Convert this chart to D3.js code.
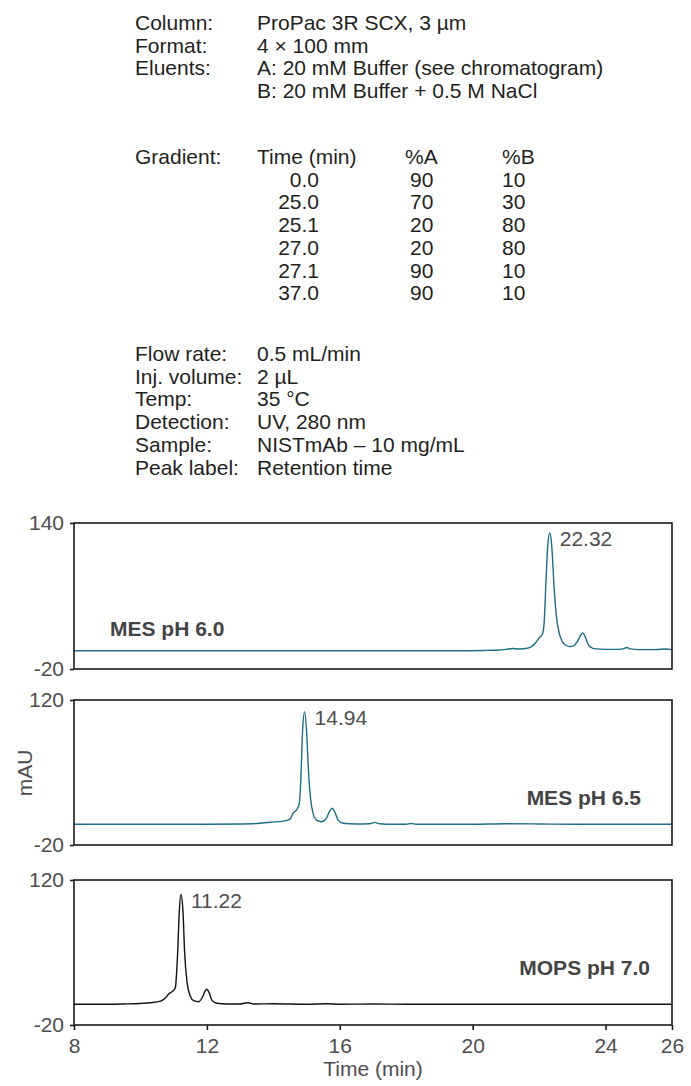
<!DOCTYPE html>
<html><head><meta charset="utf-8">
<script src="https://cdn.jsdelivr.net/npm/d3@7"></script>
<style>body{margin:0;background:#fff}svg{display:block}</style>
</head><body>
<svg id="chart" width="691" height="1086"></svg>
<script>
// ---- Method conditions ----
const conditionLabels = ["Column:", "Format:", "Eluents:", ""];
const conditionValues = ["ProPac 3R SCX, 3 µm", "4 × 100 mm", "A: 20 mM Buffer (see chromatogram)", "B: 20 mM Buffer + 0.5 M NaCl"];
const gradientHeader = ["Time (min)", "%A", "%B"];
const gradientTime = ["0.0", "25.0", "25.1", "27.0", "27.1", "37.0"];
const gradientA = ["90", "70", "20", "20", "90", "90"];
const gradientB = ["10", "30", "80", "80", "10", "10"];
const runLabels = ["Flow rate:", "Inj. volume:", "Temp:", "Detection:", "Sample:", "Peak label:"];
const runValues = ["0.5 mL/min", "2 µL", "35 °C", "UV, 280 nm", "NISTmAb – 10 mg/mL", "Retention time"];

// ---- Chromatograms: [time (min), absorbance (mAU)] ----
const xTicks = [8, 12, 16, 20, 24, 26];
const bufferNames = ["MES pH 6.0", "MES pH 6.5", "MOPS pH 7.0"];
const yDomains = [[-20, 140], [-20, 120], [-20, 120]];
const retentionTimes = ["22.32", "14.94", "11.22"];

const mesPh60 = [
  [8.0, 0], [10, 0], [12, 0], [14, 0], [16, 0], [18, 0], [19.5, 0], [20.3, 0.3], [20.8, 0.8],
  [21.0, 1.5], [21.2, 2.5], [21.4, 2.0], [21.6, 2.5], [21.75, 4], [21.9, 9], [22.0, 14], [22.1, 18],
  [22.15, 30], [22.2, 70], [22.26, 115], [22.32, 129], [22.38, 115], [22.45, 70], [22.52, 38],
  [22.6, 20], [22.7, 10], [22.8, 6], [22.93, 4.5], [23.05, 5.5], [23.15, 10], [23.25, 17],
  [23.31, 19.5], [23.38, 16], [23.45, 9], [23.55, 4], [23.7, 2], [24.0, 1.5], [24.4, 1.5],
  [24.55, 2.5], [24.64, 3.5], [24.75, 2], [25.0, 1.2], [25.5, 1.2], [25.8, 2.0], [26.0, 1.2]
];
const mesPh65 = [
  [8.0, 0], [10, 0], [12, 0], [13.0, 0.3], [13.5, 0.8], [13.9, 2], [14.3, 3], [14.5, 5], [14.6, 11],
  [14.7, 14], [14.78, 20], [14.83, 45], [14.88, 90], [14.94, 108.5], [15.0, 90], [15.06, 50],
  [15.12, 25], [15.2, 10], [15.3, 4], [15.45, 2.5], [15.6, 6], [15.7, 13], [15.78, 15.5],
  [15.86, 11], [15.95, 4], [16.1, 1], [16.5, 0.3], [16.9, 0.5], [17.05, 1.8], [17.2, 0.5],
  [17.6, 0], [18.0, 0], [18.15, 0.8], [18.3, 0], [20, 0], [21, 0.5], [22, 0.3], [23, 0],
  [24, 0], [25, 0], [26, 0]
];
const mopsPh70 = [
  [8.0, 0], [9, 0], [9.5, 0.3], [10.0, 0.8], [10.3, 1.5], [10.6, 3], [10.75, 6], [10.85, 10],
  [10.95, 12], [11.05, 16], [11.12, 50], [11.17, 90], [11.22, 106], [11.28, 90], [11.33, 50],
  [11.4, 22], [11.5, 8], [11.6, 3.5], [11.75, 2.5], [11.87, 7], [11.95, 13], [12.0, 14.5],
  [12.07, 11], [12.15, 4], [12.3, 1], [12.6, 0.3], [13.0, 0.3], [13.15, 1.2], [13.25, 1.5],
  [13.4, 0.3], [14.0, 0.5], [15, 0], [15.6, 0.5], [16, 0], [17, 0.3], [18, 0], [20, 0],
  [22, 0], [26, 0]
];
const traces = [mesPh60, mesPh65, mopsPh70];

// ---- Drawing ----
const svg = d3.select("#chart");
const font = "'Liberation Sans', Arial, Helvetica, sans-serif";
const textColor = "#231f20";
const axisColor = "#4d4d4d";
const traceColors = ["#1d6e86", "#1d6e86", "#111111"];
const fs = 21;

// Header block of run conditions
const hdr = svg.append("g").attr("font-family", font).attr("font-size", fs).attr("fill", textColor);
const colLabel = 135, colValue = 257, lineStep = 22.7;

conditionLabels.forEach((d, i) => {
  hdr.append("text").attr("x", colLabel).attr("y", 30 + i * lineStep).text(d);
  hdr.append("text").attr("x", colValue).attr("y", 30 + i * lineStep).text(conditionValues[i]);
});

const gy = 164;
hdr.append("text").attr("x", colLabel).attr("y", gy).text("Gradient:");
hdr.append("text").attr("x", colValue).attr("y", gy).text(gradientHeader[0]);
hdr.append("text").attr("x", 405).attr("y", gy).text(gradientHeader[1]);
hdr.append("text").attr("x", 502).attr("y", gy).text(gradientHeader[2]);
gradientTime.forEach((d, i) => {
  const y = gy + (i + 1) * lineStep;
  hdr.append("text").attr("x", 319).attr("y", y).attr("text-anchor", "end").text(d);
  hdr.append("text").attr("x", 410).attr("y", y).text(gradientA[i]);
  hdr.append("text").attr("x", 502).attr("y", y).text(gradientB[i]);
});

runLabels.forEach((d, i) => {
  const y = 361 + i * lineStep;
  hdr.append("text").attr("x", colLabel).attr("y", y).text(d);
  hdr.append("text").attr("x", colValue).attr("y", y).text(runValues[i]);
});

// Stacked chromatogram panels sharing one time axis
const x = d3.scaleLinear().domain([xTicks[0], xTicks[xTicks.length - 1]]).range([74, 672]);
const panels = [
  { top: 523, bottom: 669 },
  { top: 700, bottom: 845 },
  { top: 880, bottom: 1025 }
];
const bufferLabelPos = [
  { x: 110, y: 636, anchor: "start" },
  { x: 641, y: 805, anchor: "end" },
  { x: 650, y: 975, anchor: "end" }
];
const plainInt = d => String(d);

panels.forEach((p, i) => {
  const y = d3.scaleLinear().domain(yDomains[i]).range([p.bottom, p.top]);
  const g = svg.append("g");

  // trace
  const line = d3.line().x(d => x(d[0])).y(d => y(d[1])).curve(d3.curveMonotoneX);
  g.append("path").datum(traces[i])
    .attr("d", line).attr("fill", "none")
    .attr("stroke", traceColors[i]).attr("stroke-width", 1.4)
    .attr("stroke-linejoin", "round");

  // frame
  g.append("rect").attr("x", x.range()[0]).attr("y", p.top)
    .attr("width", x.range()[1] - x.range()[0]).attr("height", p.bottom - p.top)
    .attr("fill", "none").attr("stroke", "#1a1a1a").attr("stroke-width", 1.6);

  // y axis: only the range ends are labelled
  const yAxis = d3.axisLeft(y).tickValues(yDomains[i]).tickSize(4).tickPadding(6)
    .tickFormat(plainInt);
  const ya = g.append("g").attr("transform", `translate(${x.range()[0]},0)`).call(yAxis);
  ya.select(".domain").remove();
  ya.selectAll("line").attr("stroke", "#1a1a1a").attr("stroke-width", 1.6);
  ya.selectAll("text").attr("font-family", font).attr("font-size", fs).attr("fill", axisColor);

  // retention time of the main peak
  const rt = +retentionTimes[i];
  const apex = traces[i].find(d => d[0] === rt);
  g.append("text").attr("x", x(rt) + 10).attr("y", y(apex[1]) + 13)
    .attr("font-family", font).attr("font-size", fs).attr("fill", axisColor)
    .text(retentionTimes[i]);

  // buffer name
  const bl = bufferLabelPos[i];
  g.append("text").attr("x", bl.x).attr("y", bl.y).attr("text-anchor", bl.anchor)
    .attr("font-family", font).attr("font-size", fs).attr("font-weight", "bold")
    .attr("fill", "#444").text(bufferNames[i]);

  // shared time axis under the last panel
  if (i === panels.length - 1) {
    const xAxis = d3.axisBottom(x).tickValues(xTicks).tickSize(5).tickPadding(8)
      .tickFormat(plainInt);
    const xa = g.append("g").attr("transform", `translate(0,${p.bottom})`).call(xAxis);
    xa.select(".domain").remove();
    xa.selectAll("line").attr("stroke", "#1a1a1a").attr("stroke-width", 1.6);
    xa.selectAll("text").attr("font-family", font).attr("font-size", fs).attr("fill", axisColor);
  }
});

// axis titles
svg.append("text").attr("x", 373).attr("y", 1076).attr("text-anchor", "middle")
  .attr("font-family", font).attr("font-size", fs).attr("fill", axisColor).text("Time (min)");
svg.append("text").attr("transform", "translate(32,773) rotate(-90)").attr("text-anchor", "middle")
  .attr("font-family", font).attr("font-size", fs).attr("fill", axisColor).text("mAU");
</script>
</body></html>
